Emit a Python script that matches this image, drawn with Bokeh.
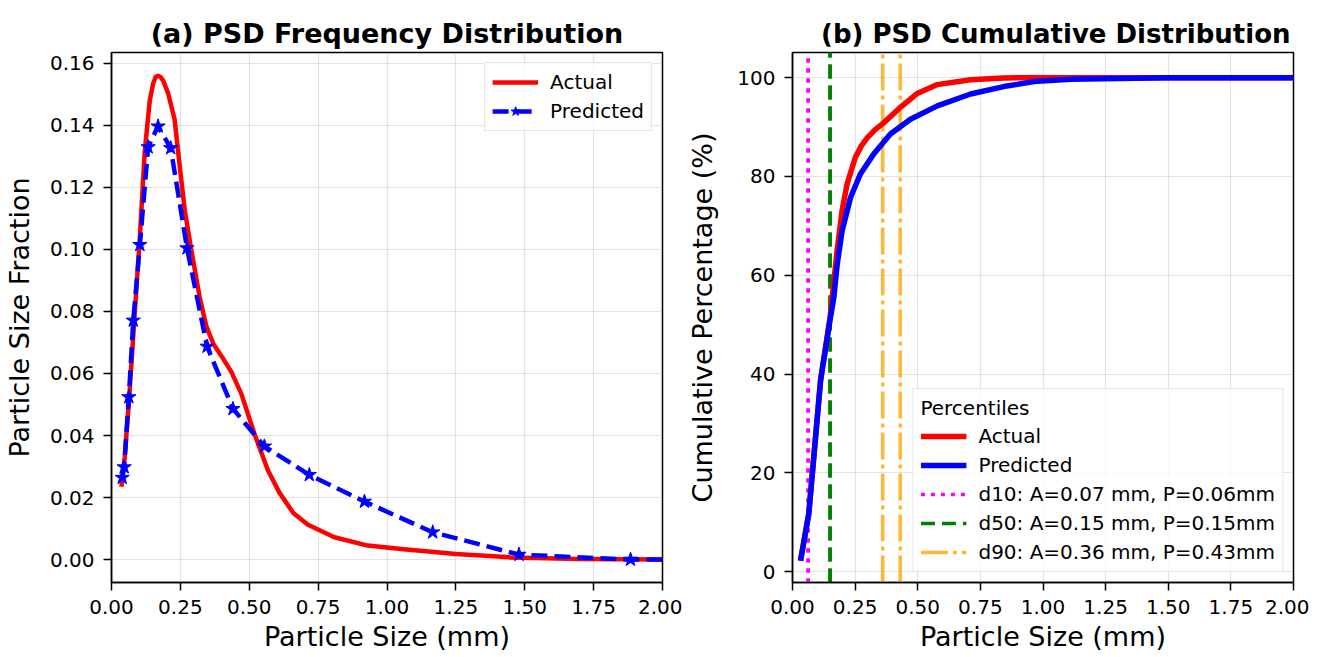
from bokeh.plotting import figure
from bokeh.layouts import row
from bokeh.models import (Legend, LegendItem, FixedTicker, NumeralTickFormatter, Range1d, ColumnDataSource)
from bokeh.embed import file_html
from bokeh.resources import INLINE

# ---------------- data ----------------
# (a) frequency distribution
actual_x = [0.036, 0.048, 0.066, 0.084, 0.103, 0.121, 0.139, 0.151, 0.160, 0.169, 0.178, 0.187,
            0.205, 0.229, 0.248, 0.266, 0.290, 0.320, 0.345, 0.370, 0.400, 0.435, 0.471, 0.519, 0.568,
            0.610, 0.660, 0.713, 0.809, 0.930, 1.051, 1.250, 1.449, 1.700, 2.000]
actual_y = [0.0235, 0.033, 0.0545, 0.079, 0.104, 0.132, 0.148, 0.1534, 0.1556, 0.156, 0.1556, 0.1545,
            0.1505, 0.1420, 0.1265, 0.1126, 0.0997, 0.0846, 0.0750, 0.0695, 0.0655, 0.0605, 0.0535, 0.0405,
            0.0287, 0.0215, 0.0150, 0.0112, 0.0072, 0.0045, 0.0034, 0.0018, 0.0007, 0.0002, 0.0]

pred_x = [0.039, 0.046, 0.063, 0.079, 0.103, 0.133, 0.169, 0.215, 0.274, 0.347, 0.441, 0.555,
          0.718, 0.918, 1.166, 1.479, 1.884, 2.000]
pred_y = [0.0264, 0.0298, 0.0524, 0.0771, 0.1015, 0.1330, 0.1397, 0.1327, 0.1004, 0.0687, 0.0486,
          0.0365, 0.0273, 0.0187, 0.0088, 0.0016, 0.0000, 0.0000]
n_markers = 17  # stars drawn on the first 17 predicted points

# (b) cumulative distribution
cum_actual_x = [0.032, 0.065, 0.112, 0.150, 0.178, 0.198, 0.218, 0.251, 0.275, 0.298, 0.330, 0.365,
                0.431, 0.498, 0.578, 0.711, 0.843, 1.000, 1.500, 2.000]
cum_actual_y = [2.2, 11.7, 38.7, 51.5, 65.0, 73.1, 78.5, 83.9, 86.2, 87.8, 89.5, 90.9,
                94.0, 96.8, 98.6, 99.6, 99.95, 100.0, 100.0, 100.0]
cum_pred_x = [0.032, 0.065, 0.112, 0.150, 0.165, 0.178, 0.198, 0.232, 0.271, 0.325, 0.391, 0.471,
              0.578, 0.711, 0.843, 0.977, 1.110, 1.500, 2.000]
cum_pred_y = [2.2, 11.7, 38.7, 51.0, 55.5, 62.0, 69.0, 75.8, 80.5, 84.6, 88.6, 91.6,
              94.3, 96.7, 98.2, 99.3, 99.7, 100.0, 100.0]

pct_names = ["d10", "d50", "d90"]
pct_actual = [0.063, 0.15, 0.36]
pct_pred = [0.062, 0.15, 0.43]
pct_actual_lbl = ["0.07", "0.15", "0.36"]
pct_pred_lbl = ["0.06", "0.15", "0.43"]
pct_colors = ["#FF00FF", "#008000", "#FFA500"]
pct_dash = ["4 6", "14 7", "27 5 4 5"]
pct_alpha = [1.0, 1.0, 0.8]

x_ticks = [0, 0.25, 0.5, 0.75, 1.0, 1.25, 1.5, 1.75, 2.0]
y_ticks_a = [0, 0.02, 0.04, 0.06, 0.08, 0.10, 0.12, 0.14, 0.16]
y_ticks_b = [0, 20, 40, 60, 80, 100]

FONT = "DejaVu Sans"


def style(p, yfmt, yticks, xlabel, ylabel, ylabel_standoff):
    p.title.text_font = FONT
    p.title.text_font_size = "27px"
    p.title.text_font_style = "bold"
    p.title.align = "center"
    p.title.text_color = "black"
    p.title.standoff = 8
    p.outline_line_color = "black"
    p.outline_line_width = 1.5
    p.outline_line_alpha = 1.0
    for ax in (p.xaxis[0], p.yaxis[0]):
        ax.axis_line_width = 1.5
        ax.axis_line_color = "black"
        ax.major_tick_line_color = "black"
        ax.major_tick_line_width = 1.5
        ax.major_tick_out = 8
        ax.major_tick_in = 0
        ax.minor_tick_line_color = None
        ax.major_label_text_font = FONT
        ax.major_label_text_font_size = "20px"
        ax.major_label_text_color = "black"
        ax.major_label_standoff = 9
        ax.axis_label_text_font = FONT
        ax.axis_label_text_font_size = "27px"
        ax.axis_label_text_font_style = "normal"
        ax.axis_label_text_color = "black"
    p.xaxis[0].axis_label = xlabel
    p.yaxis[0].axis_label = ylabel
    p.xaxis[0].axis_label_standoff = 4
    p.yaxis[0].axis_label_standoff = ylabel_standoff
    p.xaxis[0].ticker = FixedTicker(ticks=x_ticks)
    p.xaxis[0].formatter = NumeralTickFormatter(format="0.00")
    p.yaxis[0].ticker = FixedTicker(ticks=yticks)
    p.yaxis[0].formatter = NumeralTickFormatter(format=yfmt)
    p.xgrid[0].ticker = FixedTicker(ticks=x_ticks)
    p.ygrid[0].ticker = FixedTicker(ticks=yticks)
    for g in (p.xgrid[0], p.ygrid[0]):
        g.grid_line_color = "#b0b0b0"
        g.grid_line_alpha = 0.35
        g.grid_line_width = 1.2


def style_legend(lg):
    lg.label_text_font = FONT
    lg.label_text_font_size = "20px"
    lg.label_text_color = "black"
    lg.glyph_width = 46
    lg.glyph_height = 24
    lg.label_height = 24
    lg.label_standoff = 12
    lg.spacing = 5
    lg.padding = 7
    lg.margin = 10
    lg.border_line_color = "#cccccc"
    lg.border_line_width = 1.5
    lg.background_fill_alpha = 0.8


# ---------------- (a) ----------------
p1 = figure(width=682, height=656, output_backend="svg", toolbar_location=None,
            title="(a) PSD Frequency Distribution",
            x_range=Range1d(0, 2.0), y_range=Range1d(-0.0074, 0.1635),
            min_border_left=110, min_border_right=20, min_border_top=52, min_border_bottom=74)
style(p1, "0.00", y_ticks_a, "Particle Size (mm)", "Particle Size Fraction", 12)

r_act = p1.line(actual_x, actual_y, line_color="#FF0000", line_width=4.5, line_join="round")
r_pred = p1.line(pred_x, pred_y, line_color="#0000FF", line_width=4.5, line_dash="16 7")
r_star = p1.scatter(pred_x[:n_markers], pred_y[:n_markers], marker="star", size=15,
                    fill_color="#0000FF", line_color="#0000FF", line_width=1)

leg1 = Legend(items=[LegendItem(label="Actual", renderers=[r_act]),
                     LegendItem(label="Predicted", renderers=[r_pred, r_star])],
              location="top_right")
style_legend(leg1)
p1.add_layout(leg1, "center")

# ---------------- (b) ----------------
y_lo, y_hi = -2.2, 105.1
p2 = figure(width=627, height=656, output_backend="svg", toolbar_location=None,
            title="(b) PSD Cumulative Distribution",
            x_range=Range1d(0, 2.0), y_range=Range1d(y_lo, y_hi),
            min_border_left=110, min_border_right=16, min_border_top=52, min_border_bottom=74)
style(p2, "0", y_ticks_b, "Particle Size (mm)", "Cumulative Percentage (%)", 16)
p2.title.text_font_size = "26px"
p2.title.align = "right"
p2.title.offset = 3

items = []
seg_renderers = []
for i in range(3):
    locs = [pct_actual[i], pct_pred[i]]
    src = ColumnDataSource(dict(x=locs, y0=[y_lo] * 2, y1=[y_hi] * 2))
    seg = p2.segment(x0="x", y0="y0", x1="x", y1="y1", source=src, line_color=pct_colors[i],
                     line_width=3.5, line_dash=pct_dash[i], line_alpha=pct_alpha[i])
    lbl = f"{pct_names[i]}: A={pct_actual_lbl[i]} mm, P={pct_pred_lbl[i]}mm"
    seg_renderers.append((lbl, seg))

c_act = p2.line(cum_actual_x, cum_actual_y, line_color="#FF0000", line_width=5.5, line_join="round")
c_pred = p2.line(cum_pred_x, cum_pred_y, line_color="#0000FF", line_width=5.5, line_join="round")

items = [LegendItem(label="Actual", renderers=[c_act]),
         LegendItem(label="Predicted", renderers=[c_pred])]
for lbl, seg in seg_renderers:
    items.append(LegendItem(label=lbl, renderers=[seg], index=0))

leg2 = Legend(items=items, location="bottom_right", title="Percentiles")
style_legend(leg2)
leg2.title_text_font = FONT
leg2.title_text_font_size = "20px"
leg2.title_text_font_style = "normal"
leg2.title_text_color = "black"
leg2.title_text_align = "center"
leg2.title_standoff = 4
p2.add_layout(leg2, "center")

layout = row(p1, p2)
open("out.html", "w").write(file_html(layout, INLINE))
